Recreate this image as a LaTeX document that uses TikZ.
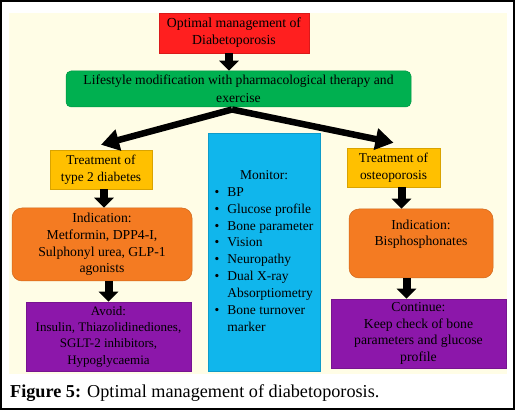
\documentclass[tikz,border=0pt]{standalone}
\usepackage{fontspec}
\setmainfont{Liberation Serif}
\usetikzlibrary{arrows.meta}
\definecolor{cream}{HTML}{FFFDE6}
\definecolor{boxred}{HTML}{FF1F1F}
\definecolor{boxgreen}{HTML}{00B050}
\definecolor{boxyellow}{HTML}{FFC000}
\definecolor{boxorange}{HTML}{F47B22}
\definecolor{boxpurple}{HTML}{8C17AA}
\definecolor{boxblue}{HTML}{10B6EC}

\begin{document}
\begin{tikzpicture}[
  x=1pt, y=-1pt,
  box/.style={draw=#1!85!black, fill=#1, line width=0.5pt, align=center, inner sep=2pt,
    font=\fontsize{13.7}{16.6}\selectfont},
  downarrow/.style={line width=8pt, draw=black, -{Triangle[width=19pt, length=10pt]}},
  forkarrow/.style={line width=6.5pt, draw=black, -{Triangle[width=21pt, length=18pt]}}
]
  \useasboundingbox (0,0) rectangle (519,411);
  \draw[line width=1.5pt] (1,1) rectangle (514,409);
  \fill[cream] (9,13) rectangle (507,374);

  \node[box=boxred, minimum width=150pt, minimum height=40pt, font=\fontsize{13.8}{17}\selectfont] (top) at (234,33)
    {Optimal management of\\Diabetoporosis};
  \node[box=boxgreen, rounded corners=5pt, minimum width=345pt, minimum height=36pt, font=\fontsize{13.6}{17.5}\selectfont] (life) at (238.5,89)
    {Lifestyle modification with pharmacological therapy and\\exercise};
  \node[box=boxyellow, minimum width=102pt, minimum height=39pt, font=\fontsize{13.4}{17}\selectfont] (tdiab) at (101,169.5)
    {Treatment of\\type 2 diabetes};
  \node[box=boxyellow, minimum width=93pt, minimum height=39pt, font=\fontsize{13.4}{17}\selectfont] (tost) at (393.5,167.5)
    {Treatment of\\osteoporosis};
  \node[box=boxorange, rounded corners=10pt, minimum width=180pt, minimum height=73pt] (inddiab) at (102,244.5)
    {Indication:\\Metformin, DPP4-I,\\Sulphonyl urea, GLP-1\\agonists};
  \node[box=boxorange, rounded corners=10pt, minimum width=144pt, minimum height=69pt] (indost) at (421,243.5)
    {Indication:\\Bisphosphonates\\\strut};
  \node[box=boxpurple, minimum width=165pt, minimum height=69pt, font=\fontsize{13}{16.4}\selectfont] (avoid) at (108.5,336.5)
    {Avoid:\\Insulin, Thiazolidinediones,\\SGLT-2 inhibitors,\\Hypoglycaemia};
  \node[box=boxpurple, minimum width=175pt, minimum height=69pt] (cont) at (418.5,333.5)
    {Continue:\\Keep check of bone\\parameters and glucose\\profile};
  \node[box=boxblue, minimum width=112pt, minimum height=238pt, font=\fontsize{13.5}{16.9}\selectfont] (monitor) at (264,252)
    {\begin{tabular}{@{}l@{\hspace{8pt}}l@{}}
      \multicolumn{2}{c}{Monitor:}\\
      \textbullet & BP\\
      \textbullet & Glucose profile\\
      \textbullet & Bone parameter\\
      \textbullet & Vision\\
      \textbullet & Neuropathy\\
      \textbullet & Dual X-ray\\
                  & Absorptiometry\\
      \textbullet & Bone turnover\\
                  & marker
    \end{tabular}};

  \coordinate (fork) at (232,109.5);

  \draw[downarrow] ([xshift=-5pt]top.south) -- ([xshift=-5pt]top.south |- life.north);
  \draw[forkarrow] (fork) -- ([yshift=5pt]tdiab.north);
  \draw[forkarrow] (fork) -- ([yshift=5pt]tost.north);
  \draw[downarrow] ([xshift=3pt]tdiab.south) -- ([xshift=3pt]tdiab.south |- inddiab.north);
  \draw[downarrow] (avoid.north |- inddiab.south) -- (avoid.north);
  \draw[downarrow] ([xshift=8pt]tost.south) -- ([xshift=8pt]tost.south |- indost.north);
  \draw[downarrow] ([xshift=-12pt]cont.north |- indost.south) -- ([xshift=-12pt]cont.north);

  \node[anchor=west, inner sep=0pt, font=\fontsize{18.2}{20}\selectfont] (caption) at (10,393)
    {\textbf{Figure 5:} Optimal management of diabetoporosis.};
\end{tikzpicture}
\end{document}
